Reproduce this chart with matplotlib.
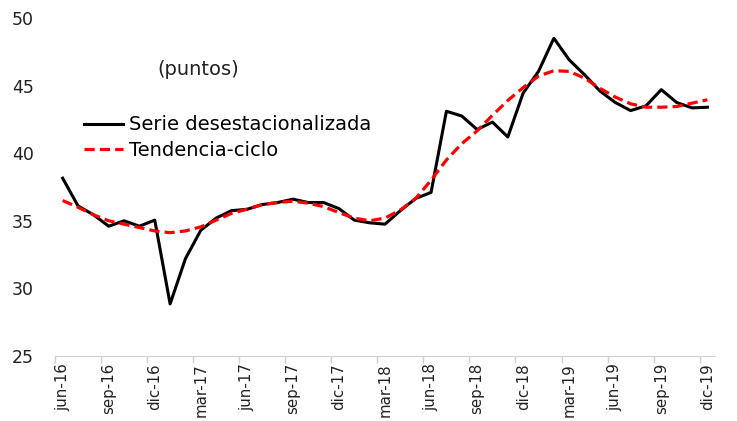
import numpy as np
import matplotlib
matplotlib.use("Agg")
import matplotlib.pyplot as plt

# monthly data jun-16 .. dic-19
months = ["jun-16", "jul-16", "ago-16", "sep-16", "oct-16", "nov-16", "dic-16",
          "ene-17", "feb-17", "mar-17", "abr-17", "may-17", "jun-17", "jul-17",
          "ago-17", "sep-17", "oct-17", "nov-17", "dic-17", "ene-18", "feb-18",
          "mar-18", "abr-18", "may-18", "jun-18", "jul-18", "ago-18", "sep-18",
          "oct-18", "nov-18", "dic-18", "ene-19", "feb-19", "mar-19", "abr-19",
          "may-19", "jun-19", "jul-19", "ago-19", "sep-19", "oct-19", "nov-19",
          "dic-19"]

serie = [38.15, 36.1, 35.45, 34.6, 35.0, 34.6, 35.05, 28.85, 32.2, 34.3,
         35.2, 35.75, 35.85, 36.2, 36.35, 36.6, 36.35, 36.35, 35.9, 35.05,
         34.85, 34.75, 35.75, 36.65, 37.1, 43.1, 42.75, 41.75, 42.3, 41.2,
         44.45, 46.05, 48.5, 46.9, 45.8, 44.6, 43.75, 43.15, 43.5, 44.7,
         43.75, 43.35, 43.4]

tendencia = [36.5, 36.0, 35.45, 35.0, 34.75, 34.5, 34.25, 34.12, 34.25, 34.55,
             35.05, 35.55, 35.85, 36.2, 36.35, 36.45, 36.3, 36.05, 35.6, 35.2,
             35.0, 35.2, 35.8, 36.65, 38.0, 39.5, 40.7, 41.65, 42.8, 43.9,
             44.85, 45.7, 46.1, 46.05, 45.55, 44.8, 44.15, 43.65, 43.4, 43.4,
             43.45, 43.7, 43.95]

font = "DejaVu Sans"
plt.rcParams['font.family'] = [font]

fig = plt.figure(figsize=(7.37, 4.21), dpi=100)
ax = fig.add_axes([0.0746, 0.1544, 0.8956, 0.8029])

x = np.arange(len(months))
ax.plot(x, serie, color="black", lw=2.2, label="Serie desestacionalizada", zorder=3)
ax.plot(x, tendencia, color="#ff0000", lw=2.3, dashes=(3.2, 1.6),
        label="Tendencia-ciclo", zorder=4)

ax.set_xlim(-0.5, len(months) - 0.5)
ax.set_ylim(25, 50)
ax.set_yticks([25, 30, 35, 40, 45, 50])
ax.tick_params(axis="y", length=0, labelsize=12.5, pad=15, colors="#222222")

ax.set_xticks(x[::3])
ax.set_xticklabels(months[::3], rotation=90, fontsize=10.8, color="#222222")
ax.set_xticks(x[::3] - 0.5, minor=True)
ax.tick_params(axis="x", which="major", length=0, pad=5)
ax.tick_params(axis="x", which="minor", length=5, color="#d0d0d0", width=1)

for s in ["top", "right", "left"]:
    ax.spines[s].set_visible(False)
ax.spines["bottom"].set_color("#d0d0d0")

ax.text(0.155, 0.832, "(puntos)", transform=ax.transAxes, fontsize=14,
        color="#222222")
ax.legend(loc="upper left", bbox_to_anchor=(0.032, 0.735), frameon=False,
          fontsize=14, handlelength=2.0, handletextpad=0.3,
          labelspacing=0.35, borderaxespad=0)

fig.savefig("out.png", dpi=100)
